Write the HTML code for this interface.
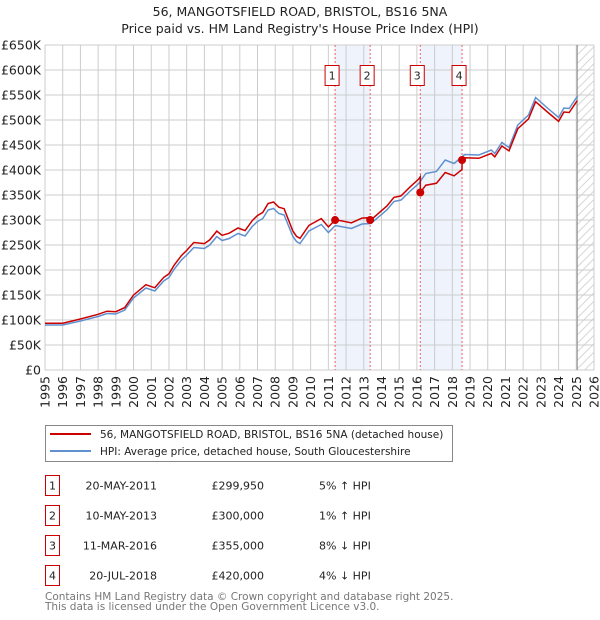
<!DOCTYPE html>
<html><head><meta charset="utf-8">
<style>
body{margin:0;background:#fff;font-family:"Liberation Sans","DejaVu Sans",sans-serif;}
svg{display:block}
text{font-family:"DejaVu Sans","Liberation Sans",sans-serif;}
</style></head>
<body>
<svg id="chart" width="600" height="620" viewBox="0 0 600 620">
<defs>
<pattern id="hatch" width="6" height="6" patternUnits="userSpaceOnUse" patternTransform="rotate(-45)">
<line x1="0" y1="3" x2="6" y2="3" stroke="#ccc" stroke-width="0.8"/>
</pattern>
</defs>
<text x="300" y="16" text-anchor="middle" font-size="12.5" fill="#222">56, MANGOTSFIELD ROAD, BRISTOL, BS16 5NA</text>
<text x="300" y="33" text-anchor="middle" font-size="12.5" fill="#222">Price paid vs. HM Land Registry's House Price Index (HPI)</text>
<g id="plot"></g>
<g>
<rect x="45.5" y="425.5" width="407" height="36" fill="#fff" stroke="#888"/>
<line x1="50" y1="434" x2="91" y2="434" stroke="#cc0000" stroke-width="2"/>
<text x="100" y="438" font-size="10.5" fill="#222">56, MANGOTSFIELD ROAD, BRISTOL, BS16 5NA (detached house)</text>
<line x1="50" y1="451" x2="91" y2="451" stroke="#6090d0" stroke-width="2"/>
<text x="100" y="455" font-size="10.5" fill="#222">HPI: Average price, detached house, South Gloucestershire</text>
</g>
<g id="table"></g>
<text x="45" y="600" font-size="10.5" fill="#777">Contains HM Land Registry data © Crown copyright and database right 2025.</text>
<text x="45" y="610" font-size="10.5" fill="#777">This data is licensed under the Open Government Licence v3.0.</text>
</svg>
<script>
const hpiYears=[1995,1996,1997,1998,1998.5,1999,1999.5,2000,2000.7,2001.2,2001.7,2002,2002.3,2002.7,2003,2003.4,2004,2004.3,2004.7,2005,2005.4,2005.9,2006.3,2006.7,2007,2007.3,2007.6,2007.9,2008.2,2008.5,2009,2009.2,2009.4,2009.9,2010.6,2011.0,2011.4,2012.3,2012.9,2013.4,2014.3,2014.7,2015.1,2015.6,2016.1,2016.5,2017.1,2017.6,2018.1,2018.5,2018.7,2019.5,2020.2,2020.4,2020.8,2021.2,2021.7,2022.3,2022.7,2023.4,2024.0,2024.3,2024.6,2025.05];
const hpiValues=[90,90,98,107,113,112,120,144,164,158,178,185,202,220,230,245,243,250,267,259,263,273,268,287,297,303,320,323,313,310,267,257,253,278,291,275,289,283,292,293,320,337,340,357,373,393,397,420,413,425,431,430,440,433,455,445,490,510,545,523,505,524,523,547];
const saleLabels=["1","2","3","4"];
const saleDates=["20-MAY-2011","10-MAY-2013","11-MAR-2016","20-JUL-2018"];
const saleYears=[2011.38,2013.36,2016.19,2018.55];
const salePrices=[299.95,300,355,420];
const salePriceText=["£299,950","£300,000","£355,000","£420,000"];
const saleDiffText=["5% ↑ HPI","1% ↑ HPI","8% ↓ HPI","4% ↓ HPI"];
const yTicks=[0,50,100,150,200,250,300,350,400,450,500,550,600,650];
const yTickLabels=["£0","£50K","£100K","£150K","£200K","£250K","£300K","£350K","£400K","£450K","£500K","£550K","£600K","£650K"];
const xTicks=[1995,1996,1997,1998,1999,2000,2001,2002,2003,2004,2005,2006,2007,2008,2009,2010,2011,2012,2013,2014,2015,2016,2017,2018,2019,2020,2021,2022,2023,2024,2025,2026];

const NS="http://www.w3.org/2000/svg";
const X0=45,X1=594,Y0=370,Y1=45;
const xs=y=>X0+(y-1995)/(2026-1995)*(X1-X0);
const ys=v=>Y0-(v/650)*(Y0-Y1);
function mk(tag,attrs,parent){const e=document.createElementNS(NS,tag);for(const k in attrs)e.setAttribute(k,attrs[k]);parent.appendChild(e);return e;}
function hpiAt(t){
  if(t<=hpiYears[0])return hpiValues[0];
  for(let i=1;i<hpiYears.length;i++){if(t<=hpiYears[i]){const f=(t-hpiYears[i-1])/(hpiYears[i]-hpiYears[i-1]);return hpiValues[i-1]+f*(hpiValues[i]-hpiValues[i-1]);}}
  return hpiValues[hpiValues.length-1];
}
const plot=document.getElementById('plot');
const dataEnd=hpiYears[hpiYears.length-1];
for(let i=0;i<saleYears.length;i+=2){
  const r=mk('rect',{x:xs(saleYears[i]),y:Y1,width:xs(saleYears[i+1])-xs(saleYears[i]),height:Y0-Y1,fill:'#eef3fc'},plot);
  
  
}
const h=mk('rect',{x:xs(dataEnd),y:Y1,width:X1-xs(dataEnd),height:Y0-Y1,fill:'url(#hatch)'},plot);


yTicks.forEach((v,i)=>{
  const l=mk('line',{x1:X0,x2:X1,y1:ys(v),y2:ys(v),stroke:'#ccc','stroke-width':1},plot);
  
  
  const t=mk('text',{x:X0-4,y:ys(v)+4.5,'text-anchor':'end','font-size':'12.5',fill:'#222'},plot);
  t.textContent=yTickLabels[i];
  
  
});
xTicks.forEach(yr=>{
  const l=mk('line',{x1:xs(yr),x2:xs(yr),y1:Y1,y2:Y0,stroke:'#ccc','stroke-width':1},plot);
  
  
  const t=mk('text',{x:0,y:0,'text-anchor':'end','font-size':'12.5',fill:'#222',transform:`translate(${xs(yr)+4.5},376) rotate(-90)`},plot);
  t.textContent=yr;
  
  
});
const el=mk('line',{x1:xs(dataEnd),x2:xs(dataEnd),y1:Y1,y2:Y0,stroke:'#999','stroke-width':1.2},plot);


saleYears.forEach((yr,i)=>{
  const l=mk('line',{x1:xs(yr),x2:xs(yr),y1:Y1,y2:Y0,stroke:'#f06060','stroke-width':1,'stroke-dasharray':'2,2'},plot);
  
  
  const bx=xs(yr)-10;
  const b=mk('rect',{x:bx,y:65.5,width:14,height:20,fill:'#fff',stroke:'#cc0000'},plot);
  
  
  const t=mk('text',{x:bx+7,y:79.5,'text-anchor':'middle','font-size':'11',fill:'#222'},plot);
  t.textContent=saleLabels[i];
  
  
});
let d='';
hpiYears.forEach((yr,i)=>{d+=(i?'L':'M')+xs(yr).toFixed(1)+','+ys(hpiValues[i]).toFixed(1);});
const hp=mk('path',{d:d,fill:'none',stroke:'#6090d0','stroke-width':1.5},plot);


function redAt(t){
  let k=0;
  for(let i=0;i<saleYears.length;i++){if(t>=saleYears[i])k=i;}
  return salePrices[k]*hpiAt(t)/hpiAt(saleYears[k]);
}
let pts=[];
hpiYears.forEach(yr=>pts.push(yr));
saleYears.forEach(yr=>{pts.push(yr-0.001);pts.push(yr);});
pts.sort((a,b)=>a-b);
let d2='';
pts.forEach((t,i)=>{d2+=(i?'L':'M')+xs(t).toFixed(1)+','+ys(redAt(t)).toFixed(1);});
const rp=mk('path',{d:d2,fill:'none',stroke:'#cc0000','stroke-width':1.5},plot);


saleYears.forEach((yr,i)=>{
  const c=mk('circle',{cx:xs(yr),cy:ys(salePrices[i]),r:4,fill:'#cc0000'},plot);
  
  
});
const tb=document.getElementById('table');
saleLabels.forEach((lab,i)=>{
  const y=475+i*30;
  const b=mk('rect',{x:45.5,y:y+0.5,width:14,height:20,fill:'#fff',stroke:'#cc0000'},tb);
  
  
  const vals=[[52.5,lab,'middle'],[157,saleDates[i],'end'],[264,salePriceText[i],'end'],[319,saleDiffText[i],'start']];
  vals.forEach(v=>{
    const t=mk('text',{x:v[0],y:y+14.5,'text-anchor':v[2],'font-size':'11',fill:'#222'},tb);
    t.textContent=v[1];
    
    
  });
});
</script>
</body></html>
